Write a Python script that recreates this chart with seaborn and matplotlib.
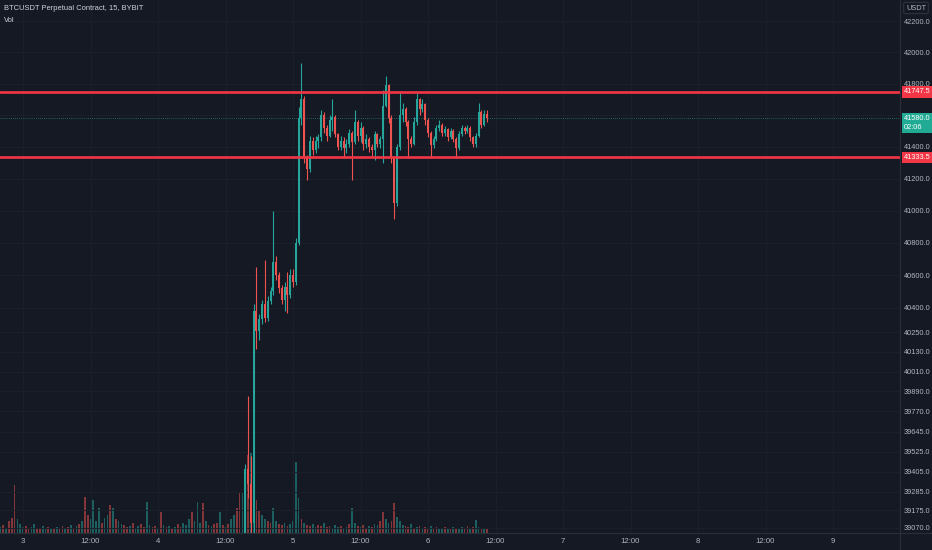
import numpy as np
import pandas as pd
import matplotlib
matplotlib.use("Agg")
import matplotlib.pyplot as plt
import matplotlib.dates as mdates
from matplotlib.ticker import FixedLocator, NullLocator, FuncFormatter
import seaborn as sns

# ---------------- data ----------------
chart_title = "BTCUSDT Perpetual Contract, 15, BYBIT"
indicator_name = "Vol"
currency = "USDT"

candle_first_time = "2023-12-04 15:30"
first_open = 38950.0
candle_close = [39420, 39330, 39100, 40380, 40260, 40330, 40420, 40340, 40440, 40500,
                40680, 40600, 40520, 40450, 40530, 40480, 40600, 40560, 40800, 41580,
                41700, 41330, 41260, 41440, 41380, 41440, 41460, 41600, 41520, 41470,
                41570, 41590, 41480, 41400, 41440, 41390, 41420, 41490, 41430, 41560,
                41470, 41520, 41420, 41450, 41400, 41380, 41480, 41420, 41450, 41660,
                41790, 41580, 41330, 41050, 41400, 41600, 41640, 41560, 41450, 41420,
                41560, 41700, 41640, 41670, 41570, 41490, 41410, 41450, 41520, 41540,
                41490, 41510, 41460, 41500, 41450, 41390, 41480, 41520, 41500, 41520,
                41460, 41420, 41470, 41620, 41540, 41610, 41580]
candle_high = [39450, 39860, 39500, 40420, 40650, 40360, 40450, 40695, 40470, 40530,
               41000, 40720, 40620, 40540, 40560, 40620, 40640, 40640, 40830, 41650,
               41930, 41720, 41350, 41470, 41460, 41470, 41480, 41630, 41620, 41540,
               41600, 41700, 41600, 41490, 41470, 41460, 41450, 41510, 41500, 41630,
               41570, 41560, 41530, 41480, 41460, 41420, 41500, 41490, 41470, 41760,
               41850, 41800, 41600, 41340, 41420, 41740, 41680, 41650, 41570, 41470,
               41590, 41740, 41710, 41700, 41680, 41580, 41500, 41470, 41540, 41570,
               41550, 41530, 41520, 41520, 41510, 41460, 41500, 41540, 41530, 41540,
               41530, 41470, 41490, 41680, 41630, 41630, 41630]
candle_low = [38900, 39250, 38950, 38990, 40150, 40200, 40300, 40310, 40320, 40420,
              40480, 40570, 40490, 40420, 40380, 40370, 40460, 40530, 40540, 40790,
              41540, 41300, 41190, 41240, 41350, 41360, 41390, 41440, 41490, 41440,
              41460, 41500, 41460, 41380, 41380, 41330, 41360, 41400, 41190, 41420,
              41440, 41430, 41380, 41390, 41370, 41340, 41320, 41400, 41390, 41300,
              41650, 41550, 41300, 40950, 41030, 41380, 41560, 41530, 41330, 41400,
              41410, 41540, 41600, 41620, 41540, 41460, 41330, 41390, 41440, 41500,
              41470, 41470, 41440, 41450, 41430, 41330, 41380, 41470, 41480, 41490,
              41440, 41400, 41400, 41460, 41520, 41530, 41560]

volume_first_time = "2023-12-02 20:00"
volume = [6, 8, 5, 12, 15, 48, 14, 9, 6, 7,
          5, 6, 9, 4, 5, 7, 5, 6, 4, 5,
          6, 4, 7, 5, 6, 8, 5, 7, 9, 12,
          36, 18, 14, 33, 12, 25, 10, 15, 18, 28,
          25, 14, 12, 9, 8, 6, 7, 10, 5, 7,
          9, 6, 31, 8, 6, 7, 5, 21, 8, 6,
          7, 5, 6, 9, 6, 10, 8, 14, 21, 12,
          31, 10, 30, 12, 8, 7, 9, 10, 21, 8,
          6, 9, 14, 18, 25, 41, 40, 30, 78, 80,
          60, 33, 22, 18, 14, 12, 10, 25, 12, 9,
          8, 10, 7, 9, 12, 71, 35, 14, 10, 8,
          7, 9, 6, 8, 7, 10, 6, 7, 5, 8,
          6, 7, 5, 6, 9, 25, 10, 7, 6, 8,
          5, 7, 6, 9, 8, 12, 21, 14, 10, 12,
          30, 16, 12, 8, 7, 6, 9, 5, 6, 7,
          5, 6, 4, 7, 5, 6, 4, 5, 6, 5,
          4, 6, 5, 4, 6, 5, 7, 5, 6, 13,
          6, 5, 4, 5]
volume_dir = ("ududdduuud" "duudduudud" "uddudududu" "dduuuuduud" "uduudduduu"
              "dduuddudud" "ududduuudu" "uudududdud" "uduudduddu" "udduudduud"
              "duduuuudud" "duuddudduu" "uduuduudud" "duduudduud" "duuuddudud"
              "uddudduudu" "duduuddudu" "udud")

level_resistance = 41747.5
level_support = 41333.5
last_price = 41580.0
countdown = "02:06"

price_ticks = [42200, 42000, 41800, 41600, 41400, 41200, 41000, 40800, 40600, 40400,
               40250, 40130, 40010, 39890, 39770, 39645, 39525, 39405, 39285, 39175, 39070]
hidden_tick = 41600  # covered by the last-price badge in the reference
x_tick_times = ["2023-12-03 00:00", "2023-12-03 12:00", "2023-12-04 00:00", "2023-12-04 12:00",
                "2023-12-05 00:00", "2023-12-05 12:00", "2023-12-06 00:00", "2023-12-06 12:00",
                "2023-12-07 00:00", "2023-12-07 12:00", "2023-12-08 00:00", "2023-12-08 12:00",
                "2023-12-09 00:00"]
x_tick_labels = ["3", "12:00", "4", "12:00", "5", "12:00", "6", "12:00", "7", "12:00", "8", "12:00", "9"]

# ---------------- style ----------------
BG = "#151924"
UP = "#26a69a"
DOWN = "#ef5350"
LINE_RED = "#f23645"
TEXT = "#b2b5be"
GRID = "#1c202b"
SEP = "#2a2e39"
FS = 5.3

sns.set_theme(style="dark", rc={"axes.facecolor": BG, "figure.facecolor": BG})
plt.rcParams["font.family"] = ["Liberation Sans", "DejaVu Sans"]

fig = plt.figure(figsize=(9.32, 5.5), dpi=100, facecolor=BG)
rect = [0.0, 17 / 550, 900 / 932, 533 / 550]

candles = pd.DataFrame({
    "time": pd.date_range(candle_first_time, periods=len(candle_close), freq="30min"),
    "close": candle_close, "high": candle_high, "low": candle_low})
candles["open"] = [first_open] + candle_close[:-1]
candles["up"] = candles["close"] >= candles["open"]
candles["color"] = np.where(candles["up"], UP, DOWN)

vols = pd.DataFrame({
    "time": pd.date_range(volume_first_time, periods=len(volume), freq="30min"),
    "volume": volume, "dir": list(volume_dir)})
vols["color"] = np.where(vols["dir"] == "u", UP, DOWN)

x_left = mdates.date2num(pd.Timestamp("2023-12-03")) - 4.089 / 24
x_right = mdates.date2num(pd.Timestamp("2023-12-03")) + 155.91 / 24

# volume pane (underneath)
ax_vol = fig.add_axes(rect)
ax_vol.set_facecolor(BG)
ax_vol.bar(mdates.date2num(vols["time"]), vols["volume"], width=0.3 / 24,
           color=vols["color"], alpha=0.5, linewidth=0)
ax_vol.set_ylim(0, 533)
ax_vol.set_xlim(x_left, x_right)
ax_vol.axis("off")

# price pane
ax = fig.add_axes(rect)
ax.patch.set_alpha(0)
ax.set_yscale("log")
ax.set_ylim(39040, 42335)
ax.set_xlim(x_left, x_right)

for tv in x_tick_times:
    ax.axvline(mdates.date2num(pd.Timestamp(tv)), color=GRID, lw=0.7, zorder=0)
for pv in price_ticks:
    ax.axhline(pv, color=GRID, lw=0.7, zorder=0)

tnum = mdates.date2num(candles["time"])
ax.vlines(tnum, candles["low"], candles["high"], colors=candles["color"], lw=0.8, zorder=2)
body_bottom = np.minimum(candles["open"], candles["close"])
body_height = np.abs(candles["close"] - candles["open"])
ax.bar(tnum, body_height, bottom=body_bottom, width=0.34 / 24,
       color=candles["color"], linewidth=0, zorder=3)

ax.axhline(last_price, color=UP, lw=0.6, ls=(0, (1, 1.5)), alpha=0.7, zorder=1)
ax.axhline(level_resistance, color=LINE_RED, lw=1.9, zorder=4)
ax.axhline(level_support, color=LINE_RED, lw=1.9, zorder=4)

ax.yaxis.tick_right()
ax.yaxis.set_major_locator(FixedLocator(price_ticks))
ax.yaxis.set_minor_locator(NullLocator())
ax.yaxis.set_major_formatter(FuncFormatter(lambda v, p: "" if v == hidden_tick else f"{v:.1f}"))
ax.set_xticks([mdates.date2num(pd.Timestamp(t)) for t in x_tick_times])
ax.set_xticklabels(x_tick_labels)
ax.xaxis.set_minor_locator(NullLocator())
ax.tick_params(axis="y", length=0, pad=2.8, labelsize=FS, labelcolor=TEXT)
ax.tick_params(axis="x", length=0, pad=3.5, labelsize=FS + 0.3, labelcolor=TEXT)
for s in ax.spines.values():
    s.set_visible(False)
ax.grid(False)

# separators
fig.add_artist(plt.Line2D([900 / 932, 900 / 932], [0, 1], color=SEP, lw=0.8))
fig.add_artist(plt.Line2D([0, 1], [17 / 550, 17 / 550], color=SEP, lw=0.8))

# price label boxes
def price_box(val, text, color, dy=0.0):
    ax.annotate(text, xy=(1.0, val), xycoords=("axes fraction", "data"),
                xytext=(2.8, dy), textcoords="offset points", ha="left", va="center",
                fontsize=FS, color="white", linespacing=1.35, zorder=10,
                bbox=dict(boxstyle="square,pad=0.3", fc=color, ec="none"),
                annotation_clip=False)

price_box(level_resistance, f"{level_resistance:.1f}", LINE_RED)
price_box(last_price, f"{last_price:.1f}\n{countdown}", "#22ab94", dy=-3.6)
price_box(level_support, f"{level_support:.1f}", LINE_RED)

fig.text(916 / 932, 1 - 8 / 550, currency, ha="center", va="center", fontsize=FS, color=TEXT,
         bbox=dict(boxstyle="round,pad=0.3,rounding_size=0.2", fc=BG, ec="#363a45", lw=0.6))

fig.text(4 / 932, 1 - 9 / 550, chart_title, ha="left", va="center", fontsize=5.4, color="#d1d4dc")
fig.text(4 / 932, 1 - 20 / 550, indicator_name, ha="left", va="center", fontsize=5.4, color="#d1d4dc")

fig.savefig("out.png", dpi=100, facecolor=BG)
